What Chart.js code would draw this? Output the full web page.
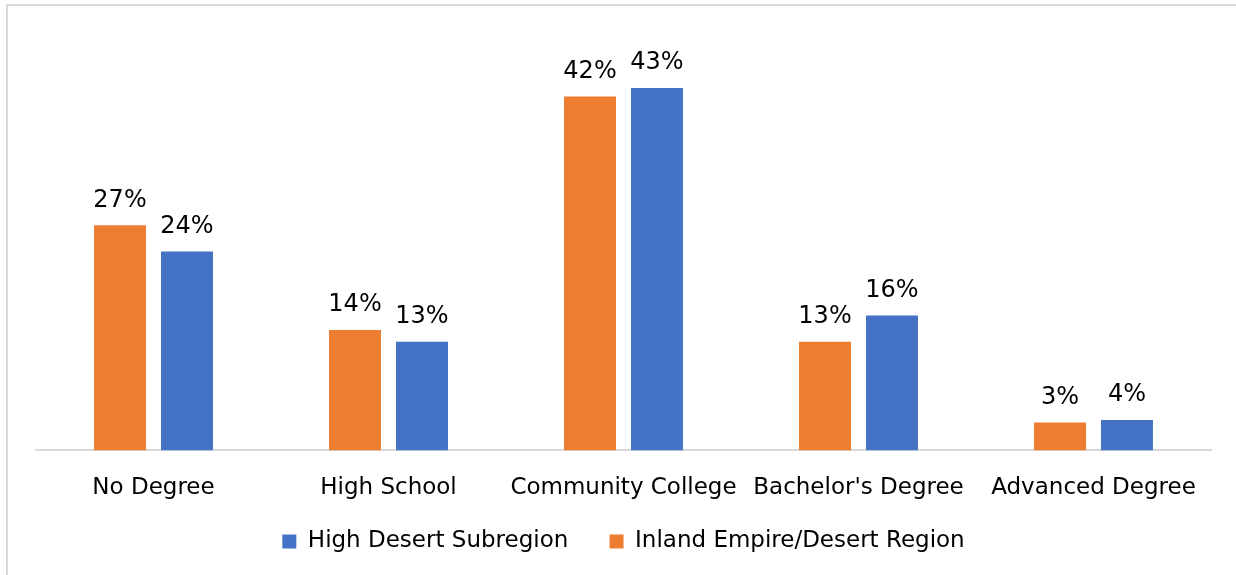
<!DOCTYPE html>
<html>
<head>
<meta charset="utf-8">
<script src="https://cdn.jsdelivr.net/npm/chart.js@4.4.1/dist/chart.umd.min.js"></script>
<style>
  html, body { margin: 0; padding: 0; background: #fff; overflow: hidden; }
  #contenedor { position: absolute; left: 0; top: 0; width: 1236px; height: 575px; }
</style>
</head>
<body>
<div id="contenedor"><canvas id="nivelChart"></canvas></div>
<script>
// Datos del gráfico
const categorias = ['No Degree', 'High School', 'Community College', "Bachelor's Degree", 'Advanced Degree'];
const valoresInland = [26.7, 14.3, 42.0, 12.9, 3.3];
const valoresHighDesert = [23.6, 12.9, 43.0, 16.0, 3.6];
const serieInland = 'Inland Empire/Desert Region';
const serieHighDesert = 'High Desert Subregion';

const fuente = "'DejaVu Sans', sans-serif";

// Marco gris (solo arriba e izquierda)
const marcoPlugin = {
    id: 'marco',
    beforeDraw(chart) {
        const ctx = chart.ctx;
        ctx.save();
        ctx.strokeStyle = '#d9d9d9';
        ctx.lineWidth = 2;
        ctx.beginPath();
        ctx.moveTo(7, chart.height);
        ctx.lineTo(7, 5);
        ctx.lineTo(chart.width, 5);
        ctx.stroke();
        ctx.restore();
    }
};

// Etiquetas de porcentaje encima de cada barra
const etiquetasPlugin = {
    id: 'etiquetas',
    afterDatasetsDraw(chart) {
        const ctx = chart.ctx;
        ctx.save();
        ctx.font = '24px ' + fuente;
        ctx.fillStyle = '#000';
        ctx.textAlign = 'center';
        ctx.textBaseline = 'bottom';
        chart.data.datasets.forEach((ds, i) => {
            chart.getDatasetMeta(i).data.forEach((bar, j) => {
                ctx.fillText(Math.round(ds.data[j]) + '%', bar.x, bar.y - 13);
            });
        });
        ctx.restore();
    }
};

new Chart(document.getElementById('nivelChart').getContext('2d'), {
    type: 'bar',
    data: {
        labels: categorias,
        datasets: [{
            label: serieInland,
            data: valoresInland,
            backgroundColor: '#ed7d31',
            categoryPercentage: 0.57,
            barPercentage: 0.776
        }, {
            label: serieHighDesert,
            data: valoresHighDesert,
            backgroundColor: '#4472c4',
            categoryPercentage: 0.57,
            barPercentage: 0.776
        }]
    },
    options: {
        responsive: true,
        maintainAspectRatio: false,
        animation: false,
        layout: { padding: { left: 36, right: 25, top: 29, bottom: 12 } },
        scales: {
            x: {
                grid: { display: false },
                border: { color: '#d9d9d9', width: 2 },
                ticks: {
                    color: '#000',
                    font: { family: fuente, size: 23 },
                    padding: 16,
                    maxRotation: 0,
                    minRotation: 0,
                    autoSkip: false
                }
            },
            y: {
                display: false,
                min: 0,
                max: 50
            }
        },
        plugins: {
            tooltip: { enabled: false },
            legend: {
                position: 'bottom',
                reverse: true,
                labels: {
                    color: '#000',
                    font: { family: fuente, size: 23 },
                    boxWidth: 14,
                    boxHeight: 14,
                    padding: 12,
                    generateLabels(chart) {
                        const items = Chart.defaults.plugins.legend.labels.generateLabels(chart);
                        // separación extra entre las dos entradas
                        items.forEach(it => {
                            if (it.text === serieHighDesert) it.text = it.text + '    ';
                        });
                        return items;
                    }
                }
            }
        }
    },
    plugins: [marcoPlugin, etiquetasPlugin]
});
</script>
</body>
</html>
